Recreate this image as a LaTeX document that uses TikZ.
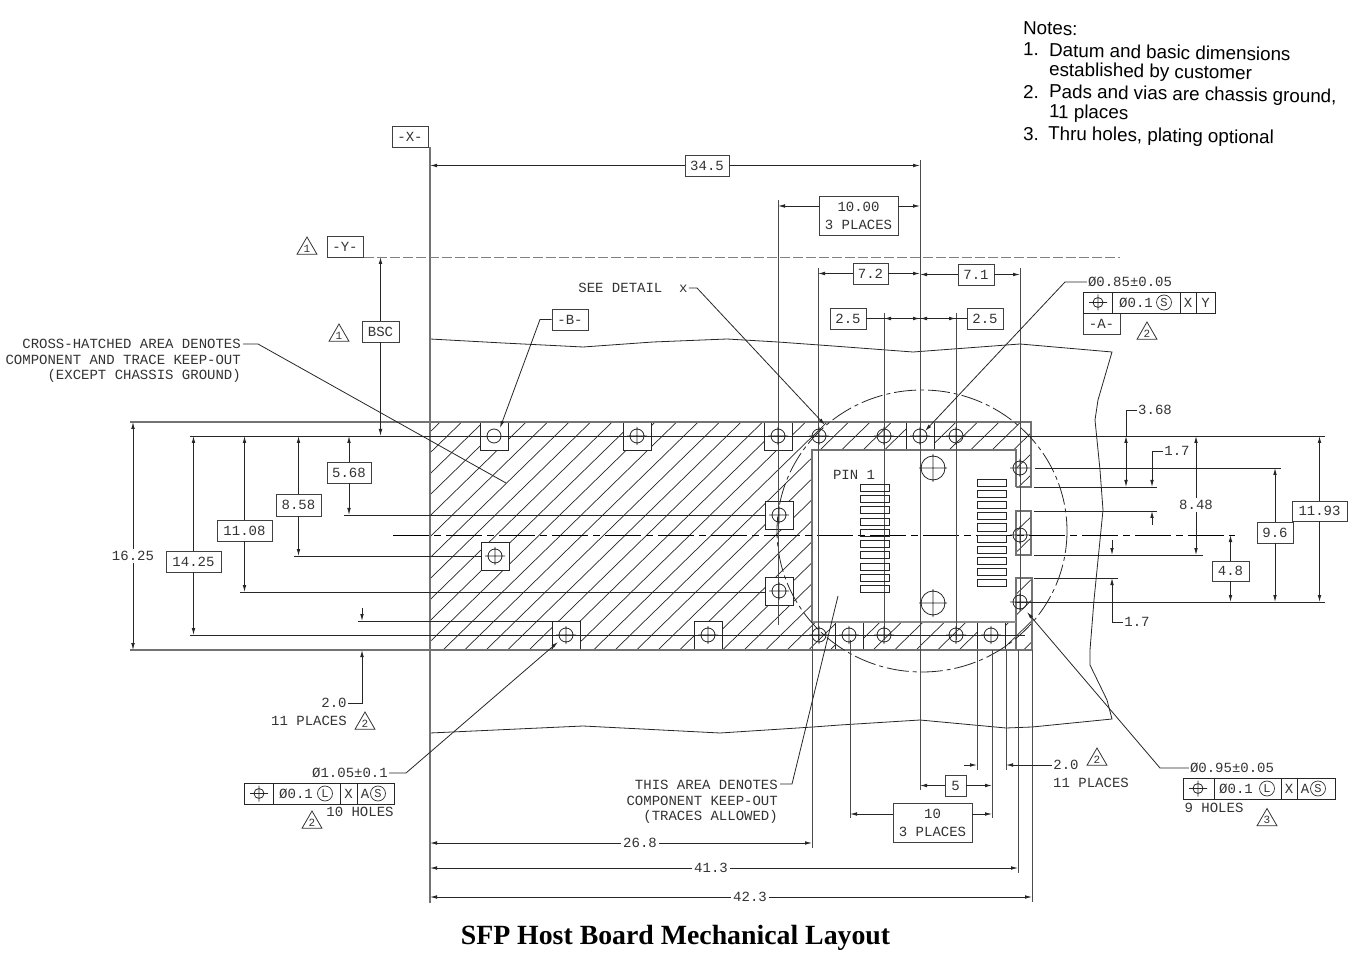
\documentclass[tikz,border=0pt]{standalone}
\usepackage{fontspec}
\setmainfont{Liberation Sans}
\newfontfamily\cadfont{Liberation Mono}
\newfontfamily\titlefont{Liberation Serif}
\usetikzlibrary{arrows.meta, calc, shapes.geometric}
\tikzset{
  cadline/.style={black!85, line width=0.8pt},
  greyline/.style={black!55, line width=1.1pt},
  hatchline/.style={black!85, line width=0.7pt},
  arrowline/.style={cadline, -{Latex[length=7pt,width=3.6pt]}},
  botharrow/.style={cadline, {Latex[length=7pt,width=3.6pt]}-{Latex[length=7pt,width=3.6pt]}},
  cadtext/.style={black!80, inner sep=1pt, align=center, font=\cadfont\fontsize{14}{18}\selectfont},
  leadertext/.style={cadtext, align=right, anchor=north east, font=\cadfont\fontsize{14}{15.5}\selectfont},
  dimbox/.style={cadtext, draw=black!75, line width=0.9pt, inner sep=0pt, fill=white},
  gaptext/.style={cadtext, fill=white, inner sep=2pt},
  deltamark/.style={regular polygon, regular polygon sides=3, draw=black!80, line width=0.8pt, minimum size=23pt, inner sep=0pt, black!80, font=\cadfont\fontsize{11}{11}\selectfont},
  modcircle/.style={circle, draw=black!80, line width=0.7pt, minimum size=15pt, inner sep=0pt, black!80, font=\cadfont\fontsize{12}{12}\selectfont},
  notetext/.style={anchor=west, rotate=-1, inner sep=0pt, font=\fontsize{18.8}{20}\selectfont},
}
\begin{document}
\begin{tikzpicture}[x=1pt, y=-1pt]
\useasboundingbox (0,0) rectangle (1361,957);
\foreach \n in {430,778,812,818,850,884,920,956,977,992,1006,1018,1020,1032,1112,1126,1152,1196,362} \coordinate (x\n) at (\n,0);
\foreach \n in {206,257,422,436,468,487,511,515,535,555,556,578,592,602,635,650,765,814} \coordinate (y\n) at (0,\n);
\coordinate (stubA) at (1152,525);
\coordinate (stubB) at (1112,540);
\coordinate (stubC) at (362,608);
\coordinate (stubD) at (964,765);
\coordinate (stubE) at (362,621);

% keep-out hatching
\begin{scope}
\clip (430,422) -- (1031,422) -- (1031,487) -- (1016,487) -- (1016,450) -- (812,450) -- (812,622) -- (1016,622) -- (1016,578) -- (1032,578) -- (1032,650) -- (430,650) -- cycle (1016,511) rectangle (1031,555);
\foreach \k in {-13,...,28} \draw[hatchline] ({443+21.5*\k+1.025*250},400) -- ({443+21.5*\k-1.025*20},670);
\end{scope}
\foreach \hx/\hy in {494/436,637/436,778/436,920/436,779/515,779/591,495/556,566/635,708/635,849/635,991/635} \filldraw[cadline, fill=white] (\hx-14,\hy-14) rectangle (\hx+14,\hy+14);

% board outline and window
\draw[greyline] (130,422) -- (1031,422) -- (1031,487) -- (1016,487);
\draw[greyline] (130,650) -- (1032,650) -- (1032,578) -- (1016,578) -- (1016,650);
\draw[greyline] (1016,511) rectangle (1031,555);
\draw[greyline] (812,622) -- (812,450) -- (1016,450) -- (1016,487);
\draw[greyline, black!45] (812,622) -- (1016,622);
\draw[cadline] (430,339) -- (503,343) -- (583,347) -- (653,342) -- (727,339) -- (778,342) -- (833,346) -- (913,352) -- (1020,344) -- (1112,352) -- (1098,400) -- (1095,420) -- (1100,470) -- (1103,510) -- (1098,560) -- (1094,600) -- (1090,650) -- (1090,665) -- (1107,700) -- (1112,719) -- (1032,727) -- (1006,728) -- (920,720) -- (840,725) -- (813,727) -- (720,733) -- (583,726) -- (430,733);
\draw[cadline, dash pattern=on 22pt off 4pt on 4pt off 4pt] (922,531) ellipse (145 and 141);
\draw[black, line width=1pt, dash pattern=on 36pt off 5pt on 7pt off 5pt] (393,535) -- (1235,535);
\draw[black!50, line width=0.6pt, dash pattern=on 10pt off 3pt] (364,257) -- (1120,257);

% extension lines
\draw[greyline] (430,147) -- (430,903);
\foreach \ex/\ea/\eb in {778/200/625,818/268/640,884/313/640,920/160/790,956/313/640,1020/268/610,812/622/848,850/640/818,977/650/770,992/650/818,1006/650/770,1018/650/873,1032/650/902} \draw[cadline, black!70, line width=1pt] (\ex,\ea) -- (\ex,\eb);
\foreach \ey/\ea/\eb in {436/190/1325,468/1035/1281,487/1034/1157,511/1034/1157,555/1034/1203,578/1034/1118,602/1015/1325,515/344/765,556/294/481,592/240/765,621/358/552,635/190/1025} \draw[cadline] (\ea,\ey) -- (\eb,\ey);

% holes
\foreach \hx/\hy in {637/436,778/436,819/436,884/436,920/436,956/436,1020/468,1020/535,1020/602,779/515,779/591,495/556,566/635,708/635,819/635,849/635,884/635,956/635,991/635} \draw[cadline] (\hx,\hy) circle (7) (\hx,\hy-9) -- (\hx,\hy+9) (\hx-10,\hy) -- (\hx+10,\hy);
\draw[cadline] (494,436) circle (7);
\foreach \hy in {468,603} \draw[cadline] (933,\hy) circle (12) (933,\hy-14) -- (933,\hy+14) (919,\hy) -- (947,\hy);

% contact pads
\foreach \i in {0,...,9} {
  \draw[cadline] (860,484.5+11.2*\i) rectangle (889,491.5+11.2*\i);
  \draw[cadline] (977,479.5+11.1*\i) rectangle (1006,486.5+11.1*\i);
}
\node[cadtext] (pinone) at (854,475) {PIN 1};

% boxed dimensions
\foreach \n/\cx/\cy/\w/\h/\t in {d345/707/165.5/44/21/{34.5},d1000/858.5/215.5/79/39/{10.00\\3 PLACES},d72/870.5/273.5/35/21/{7.2},d71/976/274.5/36/21/{7.1},d25l/848/318.5/36/21/{2.5},d25r/985/318.5/36/21/{2.5},bsc/380.5/331.5/37/21/{BSC},d568/349/472.5/44/21/{5.68},d858/298.5/505/45/22/{8.58},d1108/244.5/530.5/55/21/{11.08},d1425/193.5/561.5/55/21/{14.25},d48/1230.5/571/37/20/{4.8},d96/1275/532.5/36/21/{9.6},d1193/1319.5/511/55/20/{11.93},d5/955.5/785.5/21/21/{5},d10/932.5/822.5/79/39/{10\\3 PLACES},datumx/410/136.5/36/21/{-X-},datumy/345/246.5/36/21/{-Y-},datumb/570/319.5/36/21/{-B-},datuma/1101.5/323.5/37/21/{-A-}}
  \node[dimbox, minimum width=\w pt, minimum height=\h pt] (\n) at (\cx,\cy) {\t};

% plain dimension texts
\foreach \n/\cx/\cy/\t in {t1625/133/556/{16.25},t848/1196/505/{8.48},t268/640/843/{26.8},t413/711/868/{41.3},t423/750/897/{42.3}}
  \node[gaptext] (\n) at (\cx,\cy) {\t};
\foreach \n/\cx/\cy/\t in {t368/1155/410/{3.68},t17a/1177/451/{1.7},t17b/1137/622/{1.7},t20a/334/703/{2.0},t20b/1066/765/{2.0},p11a/309/721/{11 PLACES},p11b/1091/783/{11 PLACES},h10/360/812/{10 HOLES},h9/1214/808/{9 HOLES},seedetail/633/288/{SEE DETAIL\ \ x}}
  \node[cadtext] (\n) at (\cx,\cy) {\t};

% horizontal dimensions
\foreach \b/\l/\r in {d345/x430/x920,d72/x818/x920,d71/x920/x1020,d5/x920/x992,t268/x430/x812,t413/x430/x1018,t423/x430/x1032} {
  \draw[arrowline] (\b.west) -- (\b.west -| \l);
  \draw[arrowline] (\b.east) -- (\b.east -| \r);
}
\draw[arrowline] (d1000.west |- y206) -- (x778 |- y206);
\draw[arrowline] (d1000.east |- y206) -- (x920 |- y206);
\draw[arrowline] (d10.west |- y814) -- (x850 |- y814);
\draw[arrowline] (d10.east |- y814) -- (x992 |- y814);
\draw[cadline] (d25l.east) -- (d25r.west);
\draw[botharrow] (x884 |- d25l) -- (x920 |- d25l);
\draw[botharrow] (x920 |- d25l) -- (x956 |- d25l);
\draw[arrowline] (t20b.west) -- (x1006 |- y765);
\draw[arrowline] (stubD) -- (x977 |- y765);

% vertical dimensions
\foreach \b/\t/\d in {d568/y436/y515,d858/y436/y556,d1108/y436/y592,d1425/y436/y635,bsc/y257/y436,d48/y535/y602,d96/y468/y602,d1193/y436/y602,t1625/y422/y650,t848/y436/y555} {
  \draw[arrowline] (\b.north) -- (\b.north |- \t);
  \draw[arrowline] (\b.south) -- (\b.south |- \d);
}
\draw[cadline] (t368.west) -- (t368.west -| x1126) -- (x1126 |- y436);
\draw[botharrow] (x1126 |- y436) -- (x1126 |- y487);
\draw[arrowline] (t17a.west) -- (t17a.west -| x1152) -- (x1152 |- y487);
\draw[arrowline] (stubA) -- (x1152 |- y511);
\draw[arrowline] (stubB) -- (x1112 |- y555);
\draw[arrowline] (t17b.west) -- (t17b.west -| x1112) -- (x1112 |- y578);
\draw[arrowline] (t20a.east) -- (t20a.east -| x362) -- (x362 |- y650);
\draw[arrowline] (stubC) -- (stubE);

% leaders and their labels
\node[leadertext] (crosstext) at (242,338) {CROSS-HATCHED AREA DENOTES\\COMPONENT AND TRACE KEEP-OUT\\(EXCEPT CHASSIS GROUND)};
\draw[cadline] (243,344) -- (258,344) -- (506,483);
\node[leadertext] (areatext) at (779,779) {THIS AREA DENOTES\\COMPONENT KEEP-OUT\\(TRACES ALLOWED)};
\draw[cadline] (780,784) -- (792,784) -- (838,596);
\draw[arrowline] (seedetail.east) -- (697,288) -- (825,425);
\draw[arrowline] (datumb.west) -- (540,319.5) -- (500,428);

% feature control frames
\node[cadtext] (phi085) at (1130,282) {Ø0.85±0.05};
\draw[arrowline] (phi085.west) -- (1065,282) -- (925,431);
\draw[cadline] (1083,292) rectangle (1215,313) (1112,292) -- (1112,313) (1180,292) -- (1180,313) (1196,292) -- (1196,313);
\node[cadtext] (tol085) at (1136,302.5) {Ø0.1};
\node[modcircle] (mod085) at (1164,302.5) {S};
\node[cadtext] (xref085) at (1188,302.5) {X};
\node[cadtext] (yref085) at (1205.5,302.5) {Y};

\node[cadtext] (phi105) at (350,773) {Ø1.05±0.1};
\draw[arrowline] (phi105.east) -- (406,773) -- (558,642);
\draw[cadline] (244,783) rectangle (394,804) (273,783) -- (273,804) (340,783) -- (340,804) (357,783) -- (357,804);
\node[cadtext] (tol105) at (296,793.5) {Ø0.1};
\node[modcircle] (mod105) at (325,793.5) {L};
\node[cadtext] (xref105) at (348.5,793.5) {X};
\node[cadtext] (aref105) at (365,793.5) {A};
\node[modcircle] (sref105) at (378,793.5) {S};

\node[cadtext] (phi095) at (1232,768) {Ø0.95±0.05};
\draw[arrowline] (phi095.west) -- (1160,768) -- (1027,612);
\draw[cadline] (1183,778) rectangle (1335,799) (1214,778) -- (1214,799) (1281,778) -- (1281,799) (1297,778) -- (1297,799);
\node[cadtext] (tol095) at (1236,788.5) {Ø0.1};
\node[modcircle] (mod095) at (1267,788.5) {L};
\node[cadtext] (xref095) at (1289,788.5) {X};
\node[cadtext] (aref095) at (1305,788.5) {A};
\node[modcircle] (sref095) at (1318,788.5) {S};

\foreach \sx/\sy in {1098/302.5,259/793.5,1198/788.5} \draw[cadline] (\sx,\sy) circle (5) (\sx-9,\sy) -- (\sx+9,\sy) (\sx,\sy-8) -- (\sx,\sy+8);

% note triangles
\foreach \n/\cx/\cy/\t in {tria/307/248.5/1,trib/339/335.5/1,tric/1147/333.5/2,trid/365/723.5/2,trie/312/822.5/2,trif/1097/759.5/2,trig/1267/820/3}
  \node[deltamark] (\n) at (\cx,\cy) {\t};

% notes and title
\foreach \n/\cx/\cy/\t in {nhead/1023/28/{Notes:},none/1023/49/{1.},nonea/1049/50/{Datum and basic dimensions},noneb/1049/71/{established by customer},ntwo/1023/92/{2.},ntwoa/1049/93/{Pads and vias are chassis ground,},ntwob/1049/113/{11 places},nthree/1023/134/{3.},nthreea/1048/135/{Thru holes, plating optional}}
  \node[notetext] (\n) at (\cx,\cy) {\t};
\node[inner sep=0pt, font=\titlefont\bfseries\fontsize{27.8}{30}\selectfont] (title) at (675.5,938) {SFP Host Board Mechanical Layout};
\end{tikzpicture}
\end{document}
